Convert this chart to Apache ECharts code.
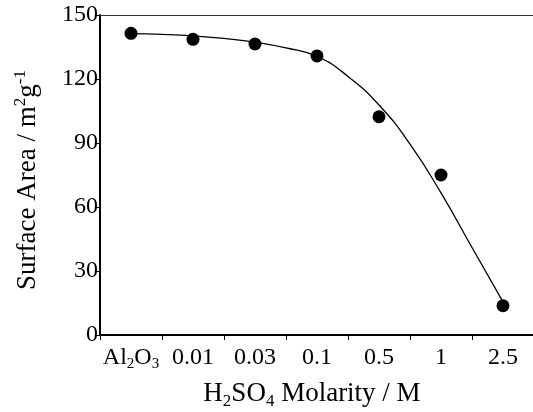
<!DOCTYPE html>
<html>
<head>
<meta charset="utf-8">
<script src="https://cdn.jsdelivr.net/npm/echarts@6/dist/echarts.min.js"></script>
<style>html,body{margin:0;padding:0;background:#fff}#c{width:533px;height:412px}</style>
</head>
<body>
<div id="c"></div>
<script>
var categories = ['Al2O3', '0.01', '0.03', '0.1', '0.5', '1', '2.5'];
var surfaceArea = [141.4, 138.6, 136.4, 130.8, 102.3, 75, 13.7];
// fitted curve: [category position, value]
var curvePos = [0, 0.5, 1, 1.5, 2, 2.5, 3, 3.5, 4, 4.5, 5, 5.5, 6];
var curveVal = [141.3, 140.9, 140.2, 139.0, 137.3, 134.6, 130.6, 121.2, 107.8, 89.5, 66.6, 41.0, 15.5];
var yTicks = [0, 30, 60, 90, 120, 150];

var FONT = 'Liberation Serif';
var FS = 24;
var NFS = 27;
var chart = echarts.init(document.getElementById('c'), null, {renderer: 'canvas'});
var curveData = curvePos.map(function (p, i) { return [p, curveVal[i]]; });

chart.setOption({
  animation: false,
  backgroundColor: '#fff',
  grid: {left: 100, top: 15, right: -1, bottom: 77, containLabel: false, outerBoundsMode: 'none'},
  xAxis: [{
    type: 'category',
    data: categories,
    position: 'bottom',
    boundaryGap: true,
    axisLine: {lineStyle: {color: '#000', width: 2}},
    axisTick: {show: true, alignWithLabel: false, length: 5, lineStyle: {color: '#000', width: 1}},
    axisLabel: {
      interval: 0,
      margin: 9,
      color: '#000',
      fontFamily: FONT,
      fontSize: FS,
      formatter: function (v) {
        if (v === 'Al2O3') return '{n|Al}{s|2}{n|O}{s|3}';
        return '{n|' + v + '}';
      },
      rich: {
        n: {fontFamily: FONT, fontSize: FS, color: '#000', lineHeight: 28},
        s: {fontFamily: FONT, fontSize: 15, color: '#000', lineHeight: 28, verticalAlign: 'bottom'}
      }
    },
    splitLine: {show: false},
    name: '{n|H}{s|2}{n|SO}{s|4}{n| Molarity / M}',
    nameLocation: 'middle',
    nameGap: 43,
    nameTextStyle: {
      color: '#000',
      padding: [0, 10, 0, 0],
      rich: {
        n: {fontFamily: FONT, fontSize: NFS, color: '#000', lineHeight: 32},
        s: {fontFamily: FONT, fontSize: 17, color: '#000', lineHeight: 32, verticalAlign: 'bottom'}
      }
    }
  }, {
    type: 'value',
    min: -0.5,
    max: 6.5,
    position: 'top',
    axisLine: {show: true, onZero: false, lineStyle: {color: '#333', width: 1}},
    axisTick: {show: false},
    axisLabel: {show: false},
    splitLine: {show: false}
  }],
  yAxis: {
    type: 'value',
    min: 0,
    max: 150,
    interval: 30,
    axisLine: {show: true, onZero: false, lineStyle: {color: '#000', width: 2}},
    axisTick: {show: true, length: 4, lineStyle: {color: '#000', width: 1}},
    axisLabel: {margin: 2, color: '#000', fontFamily: FONT, fontSize: FS,
      formatter: function (v) { return yTicks.indexOf(v) >= 0 ? String(v) : ''; }},
    splitLine: {show: false},
    name: '{n|Surface Area / m}{p|2}{n|g}{p|-1}',
    nameLocation: 'middle',
    nameGap: 56,
    nameRotate: 90,
    nameTextStyle: {
      color: '#000',
      padding: [0, 10, 0, 0],
      rich: {
        n: {fontFamily: FONT, fontSize: NFS, color: '#000', lineHeight: 32},
        p: {fontFamily: FONT, fontSize: 17, color: '#000', lineHeight: 32, verticalAlign: 'top'}
      }
    }
  },
  series: [{
    type: 'line',
    xAxisIndex: 1,
    data: curveData,
    smooth: 0.5,
    showSymbol: false,
    lineStyle: {color: '#000', width: 1.3},
    z: 2
  }, {
    type: 'scatter',
    xAxisIndex: 0,
    data: surfaceArea,
    symbol: 'circle',
    symbolSize: 13,
    itemStyle: {color: '#000', opacity: 1},
    z: 3
  }]
});
</script>
</body>
</html>
